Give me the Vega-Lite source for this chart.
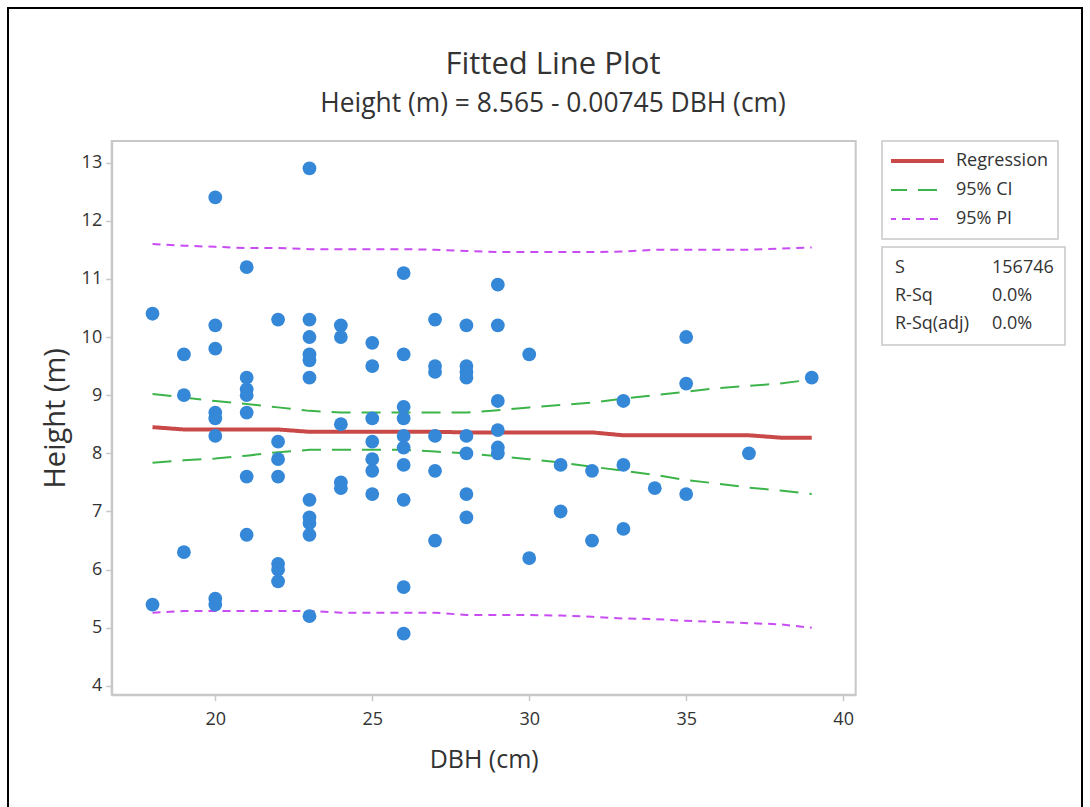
{
  "$schema": "https://vega.github.io/schema/vega-lite/v6.json",
  "autosize": {"type": "none"},
  "width": 1074,
  "height": 801,
  "padding": {"left": 8, "top": 8, "right": 8, "bottom": -2},
  "background": "white",
  "title": {
    "text": "Fitted Line Plot",
    "subtitle": "Height (m) = 8.565 - 0.00745 DBH (cm)",
    "anchor": "middle",
    "frame": "group",
    "offset": -110,
    "dx": 8,
    "font": "Open Sans",
    "fontSize": 31,
    "fontWeight": "normal",
    "color": "#333333",
    "subtitleFont": "Open Sans",
    "subtitleFontSize": 26.4,
    "subtitleColor": "#333333",
    "subtitlePadding": 10
  },
  "config": {
    "font": "Open Sans",
    "view": {"stroke": "black", "strokeWidth": 2, "fill": "white"},
    "axis": {
      "labelFont": "Open Sans",
      "labelFontSize": 18,
      "labelColor": "#333333",
      "titleFont": "Open Sans",
      "titleFontWeight": "normal",
      "titleColor": "#333333",
      "domainColor": "#c8c8c8",
      "domainWidth": 2,
      "tickColor": "#c8c8c8",
      "tickWidth": 1.5,
      "tickSize": 6,
      "grid": false
    },
    "legend": {
      "labelFont": "Open Sans",
      "labelFontSize": 18,
      "labelColor": "#333333",
      "fillColor": "white",
      "strokeColor": "#c8c8c8",
      "strokeWidth": 1.5
    }
  },
  "datasets": {
    "trees": [
      {"DBH": 18, "Height": 10.4}, {"DBH": 18, "Height": 5.4},
      {"DBH": 19, "Height": 9.7}, {"DBH": 19, "Height": 9.0}, {"DBH": 19, "Height": 6.3},
      {"DBH": 20, "Height": 12.4}, {"DBH": 20, "Height": 10.2}, {"DBH": 20, "Height": 9.8}, {"DBH": 20, "Height": 8.7}, {"DBH": 20, "Height": 8.6}, {"DBH": 20, "Height": 8.3}, {"DBH": 20, "Height": 5.5}, {"DBH": 20, "Height": 5.4},
      {"DBH": 21, "Height": 11.2}, {"DBH": 21, "Height": 9.3}, {"DBH": 21, "Height": 9.1}, {"DBH": 21, "Height": 9.0}, {"DBH": 21, "Height": 8.7}, {"DBH": 21, "Height": 7.6}, {"DBH": 21, "Height": 6.6},
      {"DBH": 22, "Height": 10.3}, {"DBH": 22, "Height": 8.2}, {"DBH": 22, "Height": 7.9}, {"DBH": 22, "Height": 7.6}, {"DBH": 22, "Height": 6.1}, {"DBH": 22, "Height": 6.0}, {"DBH": 22, "Height": 5.8},
      {"DBH": 23, "Height": 12.9}, {"DBH": 23, "Height": 10.3}, {"DBH": 23, "Height": 10.0}, {"DBH": 23, "Height": 9.7}, {"DBH": 23, "Height": 9.6}, {"DBH": 23, "Height": 9.3}, {"DBH": 23, "Height": 7.2}, {"DBH": 23, "Height": 6.9}, {"DBH": 23, "Height": 6.8}, {"DBH": 23, "Height": 6.6}, {"DBH": 23, "Height": 5.2},
      {"DBH": 24, "Height": 10.2}, {"DBH": 24, "Height": 10.0}, {"DBH": 24, "Height": 8.5}, {"DBH": 24, "Height": 7.5}, {"DBH": 24, "Height": 7.4},
      {"DBH": 25, "Height": 9.9}, {"DBH": 25, "Height": 9.5}, {"DBH": 25, "Height": 8.6}, {"DBH": 25, "Height": 8.2}, {"DBH": 25, "Height": 7.9}, {"DBH": 25, "Height": 7.7}, {"DBH": 25, "Height": 7.3},
      {"DBH": 26, "Height": 11.1}, {"DBH": 26, "Height": 9.7}, {"DBH": 26, "Height": 8.8}, {"DBH": 26, "Height": 8.6}, {"DBH": 26, "Height": 8.3}, {"DBH": 26, "Height": 8.1}, {"DBH": 26, "Height": 7.8}, {"DBH": 26, "Height": 7.2}, {"DBH": 26, "Height": 5.7}, {"DBH": 26, "Height": 4.9},
      {"DBH": 27, "Height": 10.3}, {"DBH": 27, "Height": 9.5}, {"DBH": 27, "Height": 9.4}, {"DBH": 27, "Height": 8.3}, {"DBH": 27, "Height": 7.7}, {"DBH": 27, "Height": 6.5},
      {"DBH": 28, "Height": 10.2}, {"DBH": 28, "Height": 9.5}, {"DBH": 28, "Height": 9.4}, {"DBH": 28, "Height": 9.3}, {"DBH": 28, "Height": 8.3}, {"DBH": 28, "Height": 8.0}, {"DBH": 28, "Height": 7.3}, {"DBH": 28, "Height": 6.9},
      {"DBH": 29, "Height": 10.9}, {"DBH": 29, "Height": 10.2}, {"DBH": 29, "Height": 8.9}, {"DBH": 29, "Height": 8.4}, {"DBH": 29, "Height": 8.1}, {"DBH": 29, "Height": 8.0},
      {"DBH": 30, "Height": 9.7}, {"DBH": 30, "Height": 6.2},
      {"DBH": 31, "Height": 7.8}, {"DBH": 31, "Height": 7.0},
      {"DBH": 32, "Height": 7.7}, {"DBH": 32, "Height": 6.5},
      {"DBH": 33, "Height": 8.9}, {"DBH": 33, "Height": 7.8}, {"DBH": 33, "Height": 6.7},
      {"DBH": 34, "Height": 7.4},
      {"DBH": 35, "Height": 10.0}, {"DBH": 35, "Height": 9.2}, {"DBH": 35, "Height": 7.3},
      {"DBH": 37, "Height": 8.0},
      {"DBH": 39, "Height": 9.3}
    ],
    "fit": [
      {"DBH": 18, "bound": "lower", "Regression": 8.45, "95% CI": 7.84, "95% PI": 5.26},
      {"DBH": 19, "bound": "lower", "Regression": 8.41, "95% CI": 7.88, "95% PI": 5.29},
      {"DBH": 20, "bound": "lower", "Regression": 8.41, "95% CI": 7.91, "95% PI": 5.29},
      {"DBH": 21, "bound": "lower", "Regression": 8.41, "95% CI": 7.96, "95% PI": 5.29},
      {"DBH": 22, "bound": "lower", "Regression": 8.41, "95% CI": 8.02, "95% PI": 5.29},
      {"DBH": 23, "bound": "lower", "Regression": 8.37, "95% CI": 8.06, "95% PI": 5.29},
      {"DBH": 24, "bound": "lower", "Regression": 8.37, "95% CI": 8.06, "95% PI": 5.26},
      {"DBH": 25, "bound": "lower", "Regression": 8.37, "95% CI": 8.06, "95% PI": 5.26},
      {"DBH": 26, "bound": "lower", "Regression": 8.37, "95% CI": 8.06, "95% PI": 5.26},
      {"DBH": 27, "bound": "lower", "Regression": 8.37, "95% CI": 8.03, "95% PI": 5.26},
      {"DBH": 28, "bound": "lower", "Regression": 8.36, "95% CI": 8.00, "95% PI": 5.22},
      {"DBH": 29, "bound": "lower", "Regression": 8.36, "95% CI": 7.95, "95% PI": 5.22},
      {"DBH": 30, "bound": "lower", "Regression": 8.36, "95% CI": 7.90, "95% PI": 5.22},
      {"DBH": 31, "bound": "lower", "Regression": 8.36, "95% CI": 7.84, "95% PI": 5.21},
      {"DBH": 32, "bound": "lower", "Regression": 8.36, "95% CI": 7.77, "95% PI": 5.19},
      {"DBH": 33, "bound": "lower", "Regression": 8.31, "95% CI": 7.70, "95% PI": 5.16},
      {"DBH": 34, "bound": "lower", "Regression": 8.31, "95% CI": 7.63, "95% PI": 5.15},
      {"DBH": 35, "bound": "lower", "Regression": 8.31, "95% CI": 7.54, "95% PI": 5.12},
      {"DBH": 36, "bound": "lower", "Regression": 8.31, "95% CI": 7.48, "95% PI": 5.10},
      {"DBH": 37, "bound": "lower", "Regression": 8.31, "95% CI": 7.41, "95% PI": 5.08},
      {"DBH": 38, "bound": "lower", "Regression": 8.27, "95% CI": 7.36, "95% PI": 5.06},
      {"DBH": 39, "bound": "lower", "Regression": 8.27, "95% CI": 7.30, "95% PI": 5.00},
      {"DBH": 18, "bound": "upper", "95% CI": 9.02, "95% PI": 11.60},
      {"DBH": 19, "bound": "upper", "95% CI": 8.96, "95% PI": 11.57},
      {"DBH": 20, "bound": "upper", "95% CI": 8.90, "95% PI": 11.55},
      {"DBH": 21, "bound": "upper", "95% CI": 8.85, "95% PI": 11.53},
      {"DBH": 22, "bound": "upper", "95% CI": 8.79, "95% PI": 11.53},
      {"DBH": 23, "bound": "upper", "95% CI": 8.73, "95% PI": 11.51},
      {"DBH": 24, "bound": "upper", "95% CI": 8.70, "95% PI": 11.51},
      {"DBH": 25, "bound": "upper", "95% CI": 8.70, "95% PI": 11.51},
      {"DBH": 26, "bound": "upper", "95% CI": 8.70, "95% PI": 11.51},
      {"DBH": 27, "bound": "upper", "95% CI": 8.70, "95% PI": 11.50},
      {"DBH": 28, "bound": "upper", "95% CI": 8.70, "95% PI": 11.48},
      {"DBH": 29, "bound": "upper", "95% CI": 8.74, "95% PI": 11.46},
      {"DBH": 30, "bound": "upper", "95% CI": 8.79, "95% PI": 11.46},
      {"DBH": 31, "bound": "upper", "95% CI": 8.83, "95% PI": 11.46},
      {"DBH": 32, "bound": "upper", "95% CI": 8.87, "95% PI": 11.46},
      {"DBH": 33, "bound": "upper", "95% CI": 8.94, "95% PI": 11.47},
      {"DBH": 34, "bound": "upper", "95% CI": 9.00, "95% PI": 11.50},
      {"DBH": 35, "bound": "upper", "95% CI": 9.06, "95% PI": 11.50},
      {"DBH": 36, "bound": "upper", "95% CI": 9.12, "95% PI": 11.50},
      {"DBH": 37, "bound": "upper", "95% CI": 9.16, "95% PI": 11.50},
      {"DBH": 38, "bound": "upper", "95% CI": 9.20, "95% PI": 11.52},
      {"DBH": 39, "bound": "upper", "95% CI": 9.27, "95% PI": 11.54}
    ],
    "stats": [
      {"cell": "S"}, {"cell": "156746"},
      {"cell": "R-Sq"}, {"cell": "0.0%"},
      {"cell": "R-Sq(adj)"}, {"cell": "0.0% "}
    ]
  },
  "layer": [
    {
      "data": {"values": [{}]},
      "mark": {"type": "rect", "fillOpacity": 0, "stroke": "#c8c8c8", "strokeWidth": 2},
      "encoding": {
        "x": {"datum": 16.7, "type": "quantitative", "title": "DBH (cm)"},
        "x2": {"datum": 40.4},
        "y": {"datum": 3.85, "type": "quantitative", "title": "Height (m)"},
        "y2": {"datum": 13.37}
      }
    },
    {
      "data": {"name": "fit"},
      "transform": [{"fold": ["Regression", "95% CI", "95% PI"], "as": ["series", "Height"]}],
      "mark": {"type": "line"},
      "encoding": {
        "x": {"field": "DBH", "type": "quantitative", "title": "DBH (cm)"},
        "y": {"field": "Height", "type": "quantitative", "title": "Height (m)"},
        "detail": {"field": "bound", "type": "nominal"},
        "stroke": {
          "field": "series", "type": "nominal",
          "scale": {"domain": ["Regression", "95% CI", "95% PI"], "range": ["#c94848", "#3cb44a", "#c84cf2"]},
          "legend": {
            "title": null,
            "orient": "none",
            "legendX": 874,
            "legendY": 133,
            "columns": 1,
            "symbolType": "M-2.8,0H2.8",
            "symbolSize": 400,
            "symbolOffset": 16,
            "clipHeight": 22,
            "rowPadding": 7,
            "padding": 9,
            "labelOffset": 31,
            "labelExpr": "datum.label === 'Regression' ? 'Regression' : '\u00a0\u00a0\u00a0\u00a0\u00a0\u00a0\u00a0' + datum.label",
            "encode": {"symbols": {"update": {"strokeWidth": {"signal": "datum.value === 'Regression' ? 4 : 2"}}}}
          }
        },
        "strokeDash": {
          "field": "series", "type": "nominal",
          "scale": {"domain": ["Regression", "95% CI", "95% PI"], "range": [[1, 0], [19, 11], [8, 6]]},
          "legend": {
            "title": null,
            "orient": "none",
            "legendX": 874,
            "legendY": 133,
            "columns": 1,
            "symbolType": "M-2.8,0H2.8",
            "symbolSize": 400,
            "symbolOffset": 16,
            "clipHeight": 22,
            "rowPadding": 7,
            "padding": 9,
            "labelOffset": 31,
            "labelExpr": "datum.label === 'Regression' ? 'Regression' : '\u00a0\u00a0\u00a0\u00a0\u00a0\u00a0\u00a0' + datum.label",
            "encode": {"symbols": {"update": {"strokeWidth": {"signal": "datum.value === 'Regression' ? 4 : 2"}}}}
          }
        },
        "strokeWidth": {"condition": {"test": "datum.series === 'Regression'", "value": 4}, "value": 2}
      }
    },
    {
      "data": {"name": "trees"},
      "mark": {"type": "circle", "size": 190, "opacity": 1, "color": "#3587d8"},
      "encoding": {
        "x": {
          "field": "DBH", "type": "quantitative", "title": "DBH (cm)",
          "scale": {"domain": [16.7, 40.4], "range": [103.7, 847.7], "nice": false, "zero": false},
          "axis": {"values": [20, 25, 30, 35, 40], "offset": -114.3, "labelPadding": 10, "titlePadding": 19, "titleFontSize": 25}
        },
        "y": {
          "field": "Height", "type": "quantitative", "title": "Height (m)",
          "scale": {"domain": [3.85, 13.37], "range": [686.7, 133], "nice": false, "zero": false},
          "axis": {"values": [4, 5, 6, 7, 8, 9, 10, 11, 12, 13], "format": "d", "offset": -103.7, "labelPadding": 4, "titlePadding": 11, "titleFontSize": 29}
        }
      }
    },
    {
      "data": {"name": "stats"},
      "mark": {"type": "point", "opacity": 0},
      "encoding": {
        "shape": {
          "field": "cell", "type": "nominal",
          "scale": {"domain": ["S", "R-Sq", "R-Sq(adj)", "156746", "0.0%", "0.0% "], "range": ["circle", "circle", "circle", "circle", "circle", "circle"]},
          "legend": {
            "title": null,
            "orient": "none",
            "legendX": 874,
            "legendY": 239,
            "columns": 2,
            "columnPadding": 21,
            "rowPadding": 8,
            "clipHeight": 20,
            "padding": 11,
            "labelOffset": -16,
            "symbolSize": 0,
            "symbolOpacity": 0,
            "symbolStrokeWidth": 0,
            "encode": {
              "labels": {
                "update": {
                  "align": {"signal": "(datum.value === '156746' || datum.value === '0.0%' || datum.value === '0.0% ') ? 'right' : 'left'"},
                  "dx": {"signal": "(datum.value === '156746' || datum.value === '0.0%' || datum.value === '0.0% ') ? 62 : 0"}
                }
              }
            }
          }
        }
      }
    }
  ]
}
